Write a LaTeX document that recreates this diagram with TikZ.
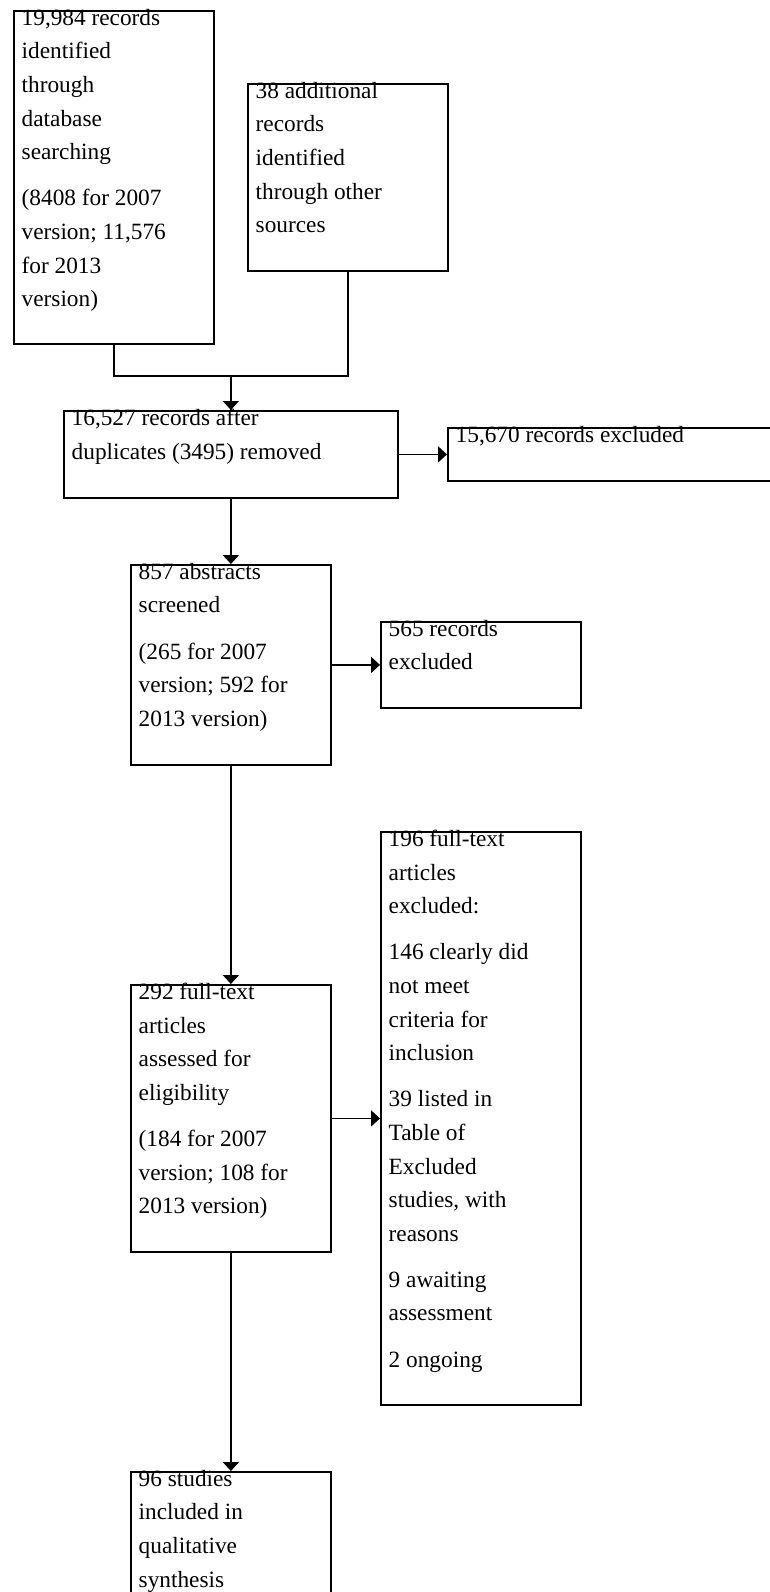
\documentclass[tikz,border=0pt]{standalone}
\usepackage{fontspec}
\setmainfont{Liberation Serif}
\usetikzlibrary{arrows.meta,calc}
\begin{document}
\begin{tikzpicture}[x=1pt,y=-1pt,
  box/.style={draw=black,line width=1.8pt,rectangle,anchor=north west,inner sep=0pt},
  txt/.style={anchor=north west,inner sep=0pt,align=left,font=\fontsize{23.3}{33.6}\selectfont},
  arr/.style={line width=1.8pt,-{Triangle[length=9pt,width=16pt]}},
  ln/.style={line width=1.8pt}]
\useasboundingbox (0,0) rectangle (769,1592);
\newcommand{\fs}{\rule{0pt}{16pt}}
% boxes
\node[box,minimum width=200pt,minimum height=333pt] (b1) at (13,10) {};
\node[box,minimum width=200pt,minimum height=187pt] (b2) at (247,83) {};
\node[box,minimum width=334pt,minimum height=87pt] (b3) at (63,410) {};
\node[box,minimum width=343pt,minimum height=53pt] (b4) at (447,427) {};
\node[box,minimum width=200pt,minimum height=200pt] (b5) at (130,564) {};
\node[box,minimum width=200pt,minimum height=86pt] (b6) at (380,621) {};
\node[box,minimum width=200pt,minimum height=267pt] (b7) at (130,984) {};
\node[box,minimum width=200pt,minimum height=573pt] (b8) at (380,831) {};
\node[box,minimum width=200pt,minimum height=160pt] (b9) at (130,1471) {};
% texts
\node[txt] (t1) at ($(b1.north west)+(8.5,-1)$) {\fs 19,984 records\\ identified\\ through\\ database\\ searching\\[12.5pt] (8408 for 2007\\ version; 11,576\\ for 2013\\ version)};
\node[txt] (t2) at ($(b2.north west)+(8.5,-1)$) {\fs 38 additional\\ records\\ identified\\ through other\\ sources};
\node[txt] (t3) at ($(b3.north west)+(8.5,-1)$) {\fs 16,527 records after\\ duplicates (3495) removed};
\node[txt] (t4) at ($(b4.north west)+(8.5,-1)$) {\fs 15,670 records excluded};
\node[txt] (t5) at ($(b5.north west)+(8.5,-1)$) {\fs 857 abstracts\\ screened\\[12.5pt] (265 for 2007\\ version; 592 for\\ 2013 version)};
\node[txt] (t6) at ($(b6.north west)+(8.5,-1)$) {\fs 565 records\\ excluded};
\node[txt] (t7) at ($(b7.north west)+(8.5,-1)$) {\fs 292 full-text\\ articles\\ assessed for\\ eligibility\\[12.5pt] (184 for 2007\\ version; 108 for\\ 2013 version)};
\node[txt] (t8) at ($(b8.north west)+(8.5,-1)$) {\fs 196 full-text\\ articles\\ excluded:\\[12.5pt] 146 clearly did\\ not meet\\ criteria for\\ inclusion\\[12.5pt] 39 listed in\\ Table of\\ Excluded\\ studies, with\\ reasons\\[12.5pt] 9 awaiting\\ assessment\\[12.5pt] 2 ongoing};
\node[txt] (t9) at ($(b9.north west)+(8.5,-1)$) {\fs 96 studies\\ included in\\ qualitative\\ synthesis};
% connectors
\coordinate (j) at ($(b3.north)+(0,-34)$);
\draw[ln] (b1.south) |- (j);
\draw[ln] (b2.south) |- (j);
\draw[arr] (j) -- (b3.north);
\draw[arr] (b3.east) -- (b4.west);
\draw[arr] (b3.south) -- (b5.north);
\draw[arr] (b5.east) -- (b6.west);
\draw[arr] (b5.south) -- (b7.north);
\draw[arr] (b7.east) -- (b7.east -| b8.west);
\draw[arr] (b7.south) -- (b9.north);
\end{tikzpicture}
\end{document}
